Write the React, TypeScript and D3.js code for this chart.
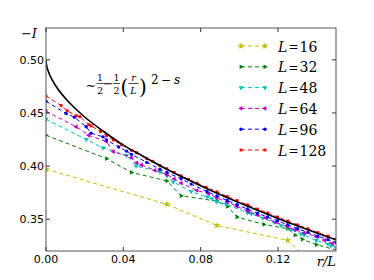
import React, { useEffect, useRef } from 'react';
import * as d3 from 'd3';

// theory curve  ~ 1/2 - 1/2 (r/L)^(2-s)
const curveR = [0, 0.0001, 0.0005, 0.001, 0.002, 0.005, 0.01, 0.015, 0.02, 0.03, 0.04, 0.05, 0.06, 0.08, 0.1, 0.12, 0.15];
const curveI = [0.5, 0.4974, 0.4934, 0.4902, 0.4855, 0.4756, 0.4638, 0.4544, 0.4462, 0.4323, 0.4197, 0.4094, 0.3994, 0.3815, 0.3654, 0.3507, 0.3305];

// L = 16
const r16 = [0, 0.0625, 0.0884, 0.125, 0.1398];
const i16 = [0.397, 0.364, 0.344, 0.33, 0.305];

// L = 32
const r32 = [0, 0.0313, 0.0442, 0.0625, 0.0699, 0.0884, 0.0938, 0.0988, 0.1127, 0.125, 0.1288, 0.1326, 0.1398, 0.1563];
const i32 = [0.429, 0.407, 0.394, 0.386, 0.372, 0.367, 0.362, 0.352, 0.345, 0.341, 0.335, 0.331, 0.326, 0.318];

// L = 48
const r48 = [0, 0.0208, 0.0295, 0.0417, 0.0466, 0.0589, 0.0625, 0.0659, 0.0751, 0.0833, 0.0859, 0.0884, 0.0932, 0.1042, 0.1062, 0.1122, 0.1179, 0.1215, 0.125, 0.1267, 0.1318, 0.1334, 0.1398, 0.1458, 0.1473, 0.1502];
const i48 = [0.444, 0.425, 0.417, 0.41, 0.4, 0.3945, 0.391, 0.385, 0.376, 0.371, 0.369, 0.3665, 0.364, 0.356, 0.355, 0.351, 0.347, 0.344, 0.342, 0.34, 0.336, 0.335, 0.33, 0.3265, 0.325, 0.323];

// L = 64
const r64 = [0, 0.0156, 0.0221, 0.0313, 0.0349, 0.0442, 0.0469, 0.0494, 0.0563, 0.0625, 0.0663, 0.0699, 0.0781, 0.0841, 0.0884, 0.0938, 0.0988, 0.1048, 0.1094, 0.1138, 0.119, 0.125, 0.1288, 0.1335, 0.1398, 0.1441, 0.1482];
const i64 = [0.4515, 0.437, 0.429, 0.423, 0.4135, 0.408, 0.403, 0.401, 0.396, 0.392, 0.388, 0.384, 0.377, 0.374, 0.37, 0.366, 0.362, 0.357, 0.354, 0.351, 0.347, 0.343, 0.34, 0.337, 0.3335, 0.33, 0.327];

// L = 96
const r96 = [0, 0.0104, 0.0147, 0.0208, 0.0233, 0.0295, 0.0313, 0.0376, 0.0417, 0.0442, 0.0521, 0.0589, 0.0625, 0.0699, 0.0751, 0.0833, 0.0884, 0.0938, 0.0988, 0.1042, 0.1094, 0.1146, 0.1198, 0.125, 0.1302, 0.1354, 0.1406, 0.1458, 0.15];
const i96 = [0.461, 0.4495, 0.446, 0.437, 0.431, 0.4275, 0.4245, 0.418, 0.414, 0.411, 0.4035, 0.397, 0.394, 0.388, 0.383, 0.376, 0.3718, 0.3675, 0.3635, 0.3595, 0.3555, 0.352, 0.3485, 0.3447, 0.341, 0.3375, 0.334, 0.3307, 0.328];

// L = 128
const r128 = [0, 0.0078, 0.011, 0.0156, 0.0175, 0.0221, 0.0234, 0.0282, 0.0313, 0.0349, 0.0391, 0.0442, 0.0469, 0.0521, 0.0552, 0.0589, 0.0625, 0.0663, 0.0699, 0.0737, 0.0781, 0.0829, 0.0884, 0.0938, 0.0988, 0.1042, 0.1094, 0.1146, 0.1198, 0.125, 0.1302, 0.1354, 0.1406, 0.1458, 0.15];
const i128 = [0.466, 0.457, 0.452, 0.4475, 0.4465, 0.439, 0.4378, 0.4325, 0.4285, 0.4245, 0.42, 0.4148, 0.4125, 0.407, 0.4045, 0.4005, 0.3975, 0.394, 0.3908, 0.3875, 0.384, 0.38, 0.3757, 0.3713, 0.3675, 0.3635, 0.3595, 0.3558, 0.352, 0.3483, 0.3446, 0.341, 0.3373, 0.334, 0.3312];

const sizeLabels = ['16', '32', '48', '64', '96', '128'];
const xTicks = [0, 0.04, 0.08, 0.12];
const yTicks = [0.35, 0.4, 0.45, 0.5];

const colors = ['#bfbf00', '#008000', '#00bfbf', '#bf00bf', '#0000ff', '#ff0000'];
const markerKinds = ['star', 'right', 'down', 'left', 'circle', 'square'];

const markerPath = (kind: string) => {
  if (kind === 'star') return { d: d3.symbol(d3.symbolStar, 16)(), rot: 0 };
  if (kind === 'circle') return { d: d3.symbol(d3.symbolCircle, 9)(), rot: 0 };
  if (kind === 'square') return { d: d3.symbol(d3.symbolSquare, 8)(), rot: 0 };
  const rot = kind === 'right' ? 90 : kind === 'down' ? 180 : -90;
  return { d: d3.symbol(d3.symbolTriangle, 10)(), rot };
};

const App = () => {
  const ref = useRef<SVGSVGElement>(null);

  useEffect(() => {
    const series = [
      { r: r16, v: i16 },
      { r: r32, v: i32 },
      { r: r48, v: i48 },
      { r: r64, v: i64 },
      { r: r96, v: i96 },
      { r: r128, v: i128 },
    ];

    const svg = d3.select(ref.current);
    svg.selectAll('*').remove();

    const left = 46, right = 336, top = 28, bottom = 251;
    const x = d3.scaleLinear().domain([0, 0.15]).range([left, right]);
    const y = d3.scaleLinear().domain([0.32, 0.53]).range([bottom, top]);

    svg.append('defs').append('clipPath').attr('id', 'plotclip')
      .append('rect').attr('x', left).attr('y', top)
      .attr('width', right - left).attr('height', bottom - top);

    const plot = svg.append('g').attr('clip-path', 'url(#plotclip)');

    series.forEach((s, k) => {
      const pts = s.r.map((r, i) => [x(r), y(s.v[i])] as [number, number]);
      plot.append('path')
        .attr('d', d3.line()(pts))
        .attr('fill', 'none')
        .attr('stroke', colors[k])
        .attr('stroke-width', 1)
        .attr('stroke-dasharray', '4,3');
      const m = markerPath(markerKinds[k]);
      plot.selectAll(null)
        .data(pts)
        .enter()
        .append('path')
        .attr('d', m.d)
        .attr('transform', d => `translate(${d[0]},${d[1]}) rotate(${m.rot})`)
        .attr('fill', colors[k]);
    });

    // theory curve
    const curvePts = curveR.map((r, i) => [r, curveI[i]] as [number, number]);
    plot.append('path')
      .attr('d', d3.line<[number, number]>().x(d => x(d[0])).y(d => y(d[1])).curve(d3.curveMonotoneX)(curvePts))
      .attr('fill', 'none')
      .attr('stroke', '#000')
      .attr('stroke-width', 1.6);

    // frame
    svg.append('rect')
      .attr('x', left).attr('y', top)
      .attr('width', right - left).attr('height', bottom - top)
      .attr('fill', 'none').attr('stroke', '#555').attr('stroke-width', 1);

    // ticks
    const tickG = svg.append('g').attr('stroke', '#333').attr('stroke-width', 1);
    xTicks.forEach(t => {
      tickG.append('line').attr('x1', x(t)).attr('x2', x(t)).attr('y1', bottom).attr('y2', bottom - 4);
      tickG.append('line').attr('x1', x(t)).attr('x2', x(t)).attr('y1', top).attr('y2', top + 4);
    });
    yTicks.forEach(t => {
      tickG.append('line').attr('x1', left).attr('x2', left + 4).attr('y1', y(t)).attr('y2', y(t));
      tickG.append('line').attr('x1', right).attr('x2', right - 4).attr('y1', y(t)).attr('y2', y(t));
    });

    const fmt = d3.format('.2f');
    svg.selectAll('.xt').data(xTicks).enter().append('text')
      .attr('x', d => x(d)).attr('y', 263)
      .attr('text-anchor', 'middle')
      .attr('font-family', 'DejaVu Sans').attr('font-size', 11)
      .text(d => fmt(d));
    svg.selectAll('.yt').data(yTicks).enter().append('text')
      .attr('x', 44).attr('y', d => y(d) + 4)
      .attr('text-anchor', 'end')
      .attr('font-family', 'DejaVu Sans').attr('font-size', 11)
      .text(d => fmt(d));

    // axis labels
    const serif = 'DejaVu Serif';
    svg.append('text').attr('x', 37).attr('y', 38).attr('text-anchor', 'end')
      .attr('font-family', serif).attr('font-size', 13)
      .call(t => {
        t.append('tspan').text('−');
        t.append('tspan').attr('font-style', 'italic').text('I');
      });
    svg.append('text').attr('x', 336).attr('y', 266).attr('text-anchor', 'end')
      .attr('font-family', serif).attr('font-size', 13).attr('font-style', 'italic').text('r/L');

    // formula annotation
    const f = svg.append('g').attr('font-family', serif).attr('fill', '#000');
    f.append('text').attr('x', 85.5).attr('y', 90).attr('font-size', 13).text('∼');
    const frac = (cx: number, num: string, den: string, italic: boolean) => {
      f.append('text').attr('x', cx).attr('y', 80.5).attr('text-anchor', 'middle')
        .attr('font-size', 9.5).attr('font-style', italic ? 'italic' : 'normal').text(num);
      f.append('line').attr('x1', cx - (italic ? 5 : 3.5)).attr('x2', cx + (italic ? 5 : 3.5))
        .attr('y1', 83.5).attr('y2', 83.5).attr('stroke', '#000').attr('stroke-width', 0.7);
      f.append('text').attr('x', cx).attr('y', 93.5).attr('text-anchor', 'middle')
        .attr('font-size', 9.5).attr('font-style', italic ? 'italic' : 'normal').text(den);
    };
    frac(100, '1', '2', false);
    f.append('text').attr('x', 108).attr('y', 88).attr('text-anchor', 'middle').attr('font-size', 13).text('−');
    frac(116.5, '1', '2', false);
    f.append('text').attr('x', 124.5).attr('y', 94).attr('text-anchor', 'middle').attr('font-size', 20).attr('font-weight', 200).text('(');
    frac(133.5, 'r', 'L', true);
    f.append('text').attr('x', 143).attr('y', 94).attr('text-anchor', 'middle').attr('font-size', 20).attr('font-weight', 200).text(')');
    f.append('text').attr('x', 151).attr('y', 84).attr('font-size', 12).text('2');
    f.append('text').attr('x', 166).attr('y', 84).attr('text-anchor', 'middle').attr('font-size', 12).text('−');
    f.append('text').attr('x', 174).attr('y', 84).attr('font-size', 12).attr('font-style', 'italic').text('s');

    // legend
    sizeLabels.forEach((lab, k) => {
      const cy = 46 + k * 20.8;
      const g = svg.append('g');
      g.append('line').attr('x1', 241).attr('x2', 265).attr('y1', cy).attr('y2', cy)
        .attr('stroke', colors[k]).attr('stroke-width', 1).attr('stroke-dasharray', '4,3');
      const m = markerPath(markerKinds[k]);
      [241, 265].forEach(px => {
        g.append('path').attr('d', m.d)
          .attr('transform', `translate(${px},${cy}) rotate(${m.rot})`)
          .attr('fill', colors[k]);
      });
      g.append('text').attr('x', 278).attr('y', cy + 5.5)
        .attr('font-family', serif).attr('font-size', 14).attr('font-style', 'italic').text('L');
      g.append('text').attr('x', 293.5).attr('y', cy + 5).attr('text-anchor', 'middle')
        .attr('font-family', serif).attr('font-size', 12).text('=');
      g.append('text').attr('x', 299.5).attr('y', cy + 5.5)
        .attr('font-family', serif).attr('font-size', 14).text(lab);
    });
  }, []);

  return (
    <svg
      ref={ref}
      width={374}
      height={280}
      style={{ position: 'absolute', left: 0, top: 0, background: '#fff' }}
    />
  );
};

export default App;
